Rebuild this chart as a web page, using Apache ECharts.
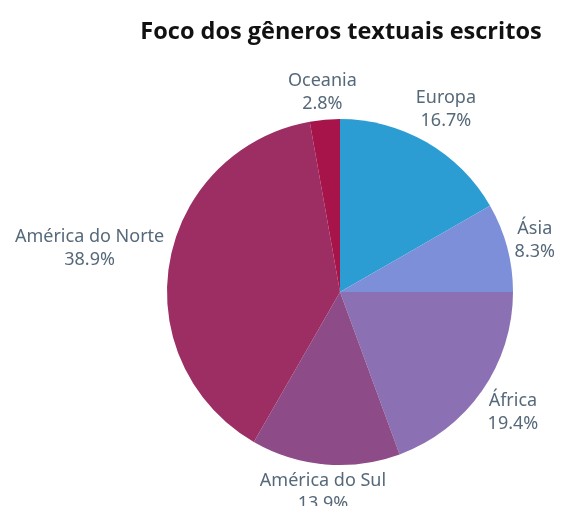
<!DOCTYPE html>
<html lang="pt">
<head>
    <meta charset="UTF-8">
    <title>Foco dos gêneros textuais escritos</title>
    <script src="https://cdn.jsdelivr.net/npm/echarts@6/dist/echarts.min.js"></script>
    <style>
        html, body { margin: 0; padding: 0; background: #fff; }
    </style>
</head>
<body>
<div id="main" style="width: 561px;height:506px;"></div>
<script type="text/javascript">
    // dados do gráfico
    var regioes = ['Europa', 'Ásia', 'África', 'América do Sul', 'América do Norte', 'Oceania'];
    var percentuais = [16.7, 8.3, 19.4, 13.9, 38.9, 2.8];
    var cores = ['#2B9DD3', '#7C8FD8', '#8B70B3', '#8D4B87', '#9C2E64', '#A6144A'];

    var centro = [340, 292];
    var raio = 173;
    var folga = 4;

    var total = percentuais.reduce(function (a, b) { return a + b; }, 0);
    var acumulado = [];
    var soma = 0;
    for (var i = 0; i < percentuais.length; i++) {
        acumulado.push(soma);
        soma += percentuais[i];
    }

    var dados = [];
    for (var i = 0; i < regioes.length; i++) {
        dados.push({ name: regioes[i], value: percentuais[i], itemStyle: { color: cores[i] } });
    }

    // distância do centro da pizza até o retângulo do rótulo
    function distRet(cx, cy, a, b) {
        var ex = Math.max(0, Math.abs(cx) - a);
        var ey = Math.max(0, Math.abs(cy) - b);
        return Math.sqrt(ex * ex + ey * ey);
    }

    var myChart = echarts.init(document.getElementById('main'));
    myChart.setOption({
        animation: false,
        title: {
            text: 'Foco dos gêneros textuais escritos',
            left: 336,
            textAlign: 'center',
            top: 15,
            textStyle: {
                fontFamily: 'Open Sans',
                fontWeight: 'bold',
                fontSize: 23.5,
                color: '#111'
            }
        },
        series: [
            {
                name: 'Foco',
                type: 'pie',
                radius: raio,
                center: centro,
                startAngle: 90,
                clockwise: true,
                avoidLabelOverlap: false,
                itemStyle: { borderWidth: 0 },
                label: {
                    show: true,
                    position: 'outside',
                    overflow: 'none',
                    fontFamily: 'Noto Sans',
                    fontSize: 18,
                    lineHeight: 23,
                    color: '#56697A',
                    formatter: function (p) {
                        return p.name + '\n' + p.value.toFixed(1) + '%';
                    }
                },
                labelLine: { show: false },
                // rótulo centrado logo fora da borda, na direção do meio da fatia
                labelLayout: function (params) {
                    var idx = params.dataIndex;
                    var ang = (acumulado[idx] + percentuais[idx] / 2) / total * Math.PI * 2;
                    var dx = Math.sin(ang), dy = -Math.cos(ang);
                    var a = params.labelRect.width / 2, b = params.labelRect.height / 2;
                    var lo = raio, hi = raio + 200;
                    for (var k = 0; k < 40; k++) {
                        var m = (lo + hi) / 2;
                        if (distRet(dx * m, dy * m, a, b) < raio + folga) lo = m; else hi = m;
                    }
                    return {
                        x: centro[0] + dx * lo,
                        y: centro[1] + dy * lo,
                        align: 'center',
                        verticalAlign: 'middle',
                        hideOverlap: false
                    };
                },
                data: dados
            }
        ]
    });
</script>
</body>
</html>
